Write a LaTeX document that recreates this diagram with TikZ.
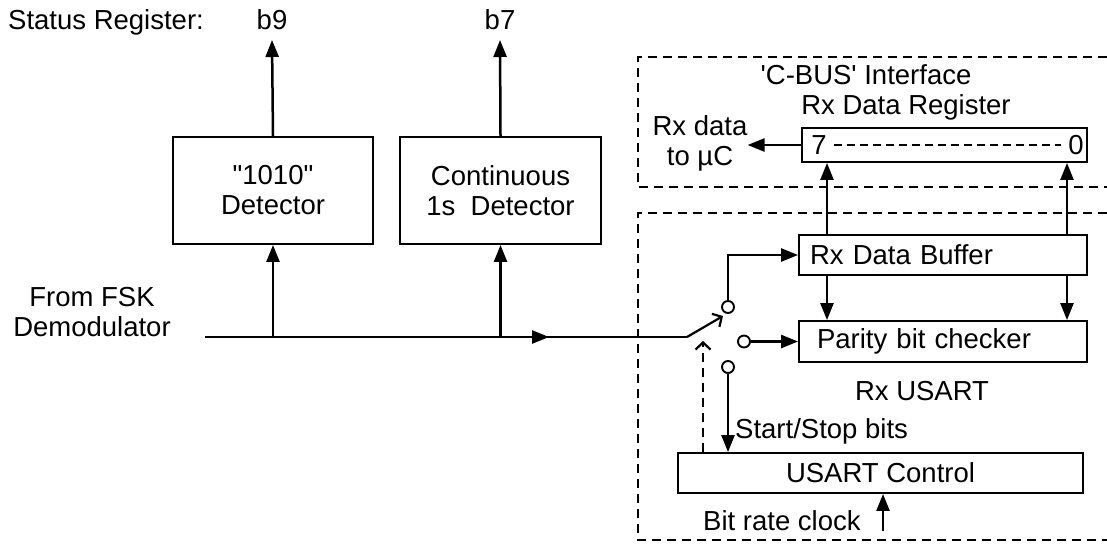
\documentclass[tikz,border=0pt]{standalone}
\usepackage{fontspec}
\setmainfont{Liberation Sans}[Ligatures=TeXOff]
\usetikzlibrary{arrows.meta}
\newcommand\lblfont{\fontsize{27.5}{30}\selectfont}

\begin{document}
\begin{tikzpicture}[x=1pt, y=-1pt,
  block/.style={rectangle, draw, line width=1.9pt, inner sep=0pt, font=\lblfont, align=center},
  txt/.style={inner sep=0pt, font=\lblfont},
  pin/.style={circle, draw, line width=1.9pt, inner sep=0pt, minimum size=12pt},
  arr/.style={-{Triangle[length=17pt, width=13pt]}, line width=2.5pt},
  openarr/.style={-{Straight Barb[length=7pt, width=15pt, line width=2.2pt]}, line width=2.2pt},
  region/.style={dashed, dash pattern=on 9pt off 6pt, line width=1.9pt}
]
\useasboundingbox (0,0) rectangle (1107,544);

\node[txt, anchor=base west] (status) at (8,29) {Status Register:};
\node[txt, anchor=base] (b9) at (272,29) {b9};
\node[txt, anchor=base] (b7) at (500,29) {b7};

\node[block, minimum width=200pt, minimum height=107pt] (det1) at (273,190.5) {"1010"\\Detector};
\node[block, minimum width=201pt, minimum height=107pt] (det2) at (500.5,190.5) {Continuous\\1s\ \ Detector};

\node[txt, align=center] (fsk) at (92,312) {From FSK\\Demodulator};

\draw[region] (1107,57) -| (638,187) -- (1107,187);
\draw[region] (1107,213) -| (638,540) -- (1107,540);

\node[txt, anchor=base] (cbus) at (866,84) {'C-BUS' Interface};
\node[txt, anchor=base] (regname) at (906,114) {Rx Data Register};
\node[block, minimum width=285pt, minimum height=34pt] (reg) at (944.5,145) {};
\node[txt, anchor=west] (r7) at ([xshift=10pt]reg.west) {7};
\node[txt, anchor=east] (r0) at ([xshift=-4pt]reg.east) {0};
\node[txt, align=center] (rxdata) at (700,143) {Rx data\\to µC};

\node[block, text width=266pt, inner xsep=11pt, minimum height=40pt, align=left] (buf) at (943,255) {Rx Data Buffer};
\node[block, text width=252pt, inner xsep=18pt, minimum height=41pt, align=left] (par) at (943,341.5) {Parity bit checker};
\node[txt, anchor=base] (usartname) at (922,400) {Rx USART};
\node[block, minimum width=405pt, minimum height=40pt] (usart) at (880.5,473) {USART Control};
\node[txt, anchor=base west] (startstop) at (735,438) {Start/Stop bits};
\node[txt, anchor=base west] (clock) at (703,530) {Bit rate clock};

\node[pin] (c1) at (728,307) {};
\node[pin] (c2) at (744,341.5) {};
\node[pin] (c3) at (728,367) {};

\coordinate (src) at (205,337);
\coordinate (mid) at (549,337);
\coordinate (sw) at (687,337);
\coordinate (blade) at (723,316);
\coordinate (ctl) at (703,341);
\coordinate (clk) at (883,531);
\coordinate (bit7) at (827,0);
\coordinate (bit0) at (1067,0);

\draw[arr] (det1.north) -- (b9.north |- 0,40);
\draw[arr] (det2.north) -- (b7.north |- 0,40);

\draw[line width=2.5pt] (src) -- (sw);
\draw[arr] (src) -- (mid);
\draw[arr] (det1.south |- src) -- (det1.south);
\draw[arr] (det2.south |- src) -- (det2.south);
\draw[openarr] (sw) -- (blade);
\draw[openarr, dashed, dash pattern=on 9pt off 6pt] (ctl |- usart.north) -- (ctl);

\draw[dashed, dash pattern=on 8pt off 5pt, line width=1.9pt] ([xshift=7pt]r7.east) -- ([xshift=-7pt]r0.west);
\draw[arr] (reg.west) -- (reg.west -| rxdata.east);

\draw[arr] (bit7 |- buf.north) -- (bit7 |- reg.south);
\draw[arr] (bit0 |- buf.north) -- (bit0 |- reg.south);
\draw[arr] (bit7 |- buf.south) -- (bit7 |- par.north);
\draw[arr] (bit0 |- buf.south) -- (bit0 |- par.north);

\draw[arr] (c1.north) |- (buf.west);
\draw[arr] (c2.east) -- (par.west);
\draw[arr] (c3.south) -- (c3.south |- usart.north);
\draw[arr] (clk) -- (clk |- usart.south);

\end{tikzpicture}
\end{document}
